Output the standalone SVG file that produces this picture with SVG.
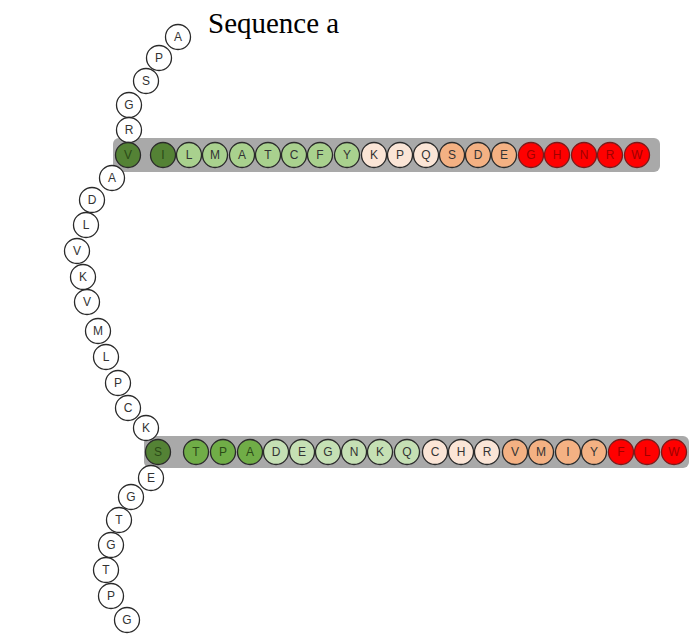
<svg xmlns="http://www.w3.org/2000/svg" width="691" height="641" viewBox="0 0 691 641">
<style>
.bar{fill:#a9a9a9}
circle{stroke:#2a2a2a;stroke-width:1.3}
.w{fill:#fff}
.dg{fill:#548235}
.mg{fill:#70ad47}
.lg{fill:#a9d18e}
.pg{fill:#c5e0b4}
.pp{fill:#fbe5d6}
.pe{fill:#f4b183}
.rd{fill:#ff0000;stroke:#7a1a1a}
text{font-family:"Liberation Sans",Arial,sans-serif;font-size:12px;fill:#333;text-anchor:middle;dominant-baseline:central}
text.d{fill:#2b4a17}
text.r{fill:#a00000}
.title{font-family:"Liberation Serif","Times New Roman",serif;font-size:29px;fill:#000;text-anchor:start;dominant-baseline:alphabetic}
</style>
<rect width="691" height="641" fill="#fff"/>
<text class="title" x="208" y="33">Sequence a</text>
<g id="bars">
<rect class="bar" x="113" y="138" width="547" height="34" rx="6"/>
<rect class="bar" x="144" y="436" width="545" height="32" rx="6"/>
</g>
<g id="connectors"></g>
<g id="top-chain">
<g id="t-A"><circle class="w" cx="178" cy="37" r="12.5"/><text x="178" y="37">A</text></g>
<g id="t-P"><circle class="w" cx="159" cy="58" r="12.5"/><text x="159" y="58">P</text></g>
<g id="t-S"><circle class="w" cx="146" cy="81" r="12.5"/><text x="146" y="81">S</text></g>
<g id="t-G"><circle class="w" cx="129" cy="105" r="12.5"/><text x="129" y="105">G</text></g>
<g id="t-R"><circle class="w" cx="129" cy="130" r="12.5"/><text x="129" y="130">R</text></g>
</g>
<g id="top-row">
<g id="r1-V"><circle class="dg" cx="128" cy="155" r="12.5"/><text class="d" x="128" y="155">V</text></g>
<g id="r1-I"><circle class="dg" cx="163" cy="155" r="12.5"/><text class="d" x="163" y="155">I</text></g>
<g id="r1-L"><circle class="lg" cx="189" cy="155" r="12.5"/><text x="189" y="155">L</text></g>
<g id="r1-M"><circle class="lg" cx="215" cy="155" r="12.5"/><text x="215" y="155">M</text></g>
<g id="r1-A"><circle class="lg" cx="242" cy="155" r="12.5"/><text x="242" y="155">A</text></g>
<g id="r1-T"><circle class="lg" cx="268" cy="155" r="12.5"/><text x="268" y="155">T</text></g>
<g id="r1-C"><circle class="lg" cx="294" cy="155" r="12.5"/><text x="294" y="155">C</text></g>
<g id="r1-F"><circle class="lg" cx="320" cy="155" r="12.5"/><text x="320" y="155">F</text></g>
<g id="r1-Y"><circle class="lg" cx="347" cy="155" r="12.5"/><text x="347" y="155">Y</text></g>
<g id="r1-K"><circle class="pp" cx="374" cy="155" r="12.5"/><text x="374" y="155">K</text></g>
<g id="r1-P"><circle class="pp" cx="400" cy="155" r="12.5"/><text x="400" y="155">P</text></g>
<g id="r1-Q"><circle class="pp" cx="426" cy="155" r="12.5"/><text x="426" y="155">Q</text></g>
<g id="r1-S"><circle class="pe" cx="452" cy="155" r="12.5"/><text x="452" y="155">S</text></g>
<g id="r1-D"><circle class="pe" cx="478" cy="155" r="12.5"/><text x="478" y="155">D</text></g>
<g id="r1-E"><circle class="pe" cx="504" cy="155" r="12.5"/><text x="504" y="155">E</text></g>
<g id="r1-G"><circle class="rd" cx="531" cy="155" r="12.5"/><text class="r" x="531" y="155">G</text></g>
<g id="r1-H"><circle class="rd" cx="557" cy="155" r="12.5"/><text class="r" x="557" y="155">H</text></g>
<g id="r1-N"><circle class="rd" cx="584" cy="155" r="12.5"/><text class="r" x="584" y="155">N</text></g>
<g id="r1-R"><circle class="rd" cx="610" cy="155" r="12.5"/><text class="r" x="610" y="155">R</text></g>
<g id="r1-W"><circle class="rd" cx="637" cy="155" r="12.5"/><text class="r" x="637" y="155">W</text></g>
</g>
<g id="mid-chain">
<g id="m-A"><circle class="w" cx="112" cy="178" r="12.5"/><text x="112" y="178">A</text></g>
<g id="m-D"><circle class="w" cx="92" cy="200" r="12.5"/><text x="92" y="200">D</text></g>
<g id="m-L"><circle class="w" cx="86" cy="225" r="12.5"/><text x="86" y="225">L</text></g>
<g id="m-V1"><circle class="w" cx="77" cy="251" r="12.5"/><text x="77" y="251">V</text></g>
<g id="m-K1"><circle class="w" cx="83" cy="277" r="12.5"/><text x="83" y="277">K</text></g>
<g id="m-V2"><circle class="w" cx="87" cy="302" r="12.5"/><text x="87" y="302">V</text></g>
<g id="m-M"><circle class="w" cx="98" cy="331" r="12.5"/><text x="98" y="331">M</text></g>
<g id="m-L2"><circle class="w" cx="106" cy="357" r="12.5"/><text x="106" y="357">L</text></g>
<g id="m-P"><circle class="w" cx="118" cy="383" r="12.5"/><text x="118" y="383">P</text></g>
<g id="m-C"><circle class="w" cx="128" cy="408" r="12.5"/><text x="128" y="408">C</text></g>
<g id="m-K2"><circle class="w" cx="146" cy="428" r="12.5"/><text x="146" y="428">K</text></g>
</g>
<g id="bottom-row">
<g id="r2-S"><circle class="dg" cx="158" cy="452" r="12.5"/><text class="d" x="158" y="452">S</text></g>
<g id="r2-T"><circle class="mg" cx="196" cy="452" r="12.5"/><text class="d" x="196" y="452">T</text></g>
<g id="r2-P"><circle class="mg" cx="223" cy="452" r="12.5"/><text class="d" x="223" y="452">P</text></g>
<g id="r2-A"><circle class="mg" cx="250" cy="452" r="12.5"/><text class="d" x="250" y="452">A</text></g>
<g id="r2-D"><circle class="pg" cx="276" cy="452" r="12.5"/><text x="276" y="452">D</text></g>
<g id="r2-E"><circle class="pg" cx="302" cy="452" r="12.5"/><text x="302" y="452">E</text></g>
<g id="r2-G"><circle class="pg" cx="328" cy="452" r="12.5"/><text x="328" y="452">G</text></g>
<g id="r2-N"><circle class="pg" cx="354" cy="452" r="12.5"/><text x="354" y="452">N</text></g>
<g id="r2-K"><circle class="pg" cx="380" cy="452" r="12.5"/><text x="380" y="452">K</text></g>
<g id="r2-Q"><circle class="pg" cx="407" cy="452" r="12.5"/><text x="407" y="452">Q</text></g>
<g id="r2-C"><circle class="pp" cx="435" cy="452" r="12.5"/><text x="435" y="452">C</text></g>
<g id="r2-H"><circle class="pp" cx="461" cy="452" r="12.5"/><text x="461" y="452">H</text></g>
<g id="r2-R"><circle class="pp" cx="487" cy="452" r="12.5"/><text x="487" y="452">R</text></g>
<g id="r2-V"><circle class="pe" cx="515" cy="452" r="12.5"/><text x="515" y="452">V</text></g>
<g id="r2-M"><circle class="pe" cx="541" cy="452" r="12.5"/><text x="541" y="452">M</text></g>
<g id="r2-I"><circle class="pe" cx="568" cy="452" r="12.5"/><text x="568" y="452">I</text></g>
<g id="r2-Y"><circle class="pe" cx="594" cy="452" r="12.5"/><text x="594" y="452">Y</text></g>
<g id="r2-F"><circle class="rd" cx="621" cy="452" r="12.5"/><text class="r" x="621" y="452">F</text></g>
<g id="r2-L"><circle class="rd" cx="647" cy="452" r="12.5"/><text class="r" x="647" y="452">L</text></g>
<g id="r2-W"><circle class="rd" cx="674" cy="452" r="12.5"/><text class="r" x="674" y="452">W</text></g>
</g>
<g id="bottom-chain">
<g id="b-E"><circle class="w" cx="151" cy="478" r="12.5"/><text x="151" y="478">E</text></g>
<g id="b-G1"><circle class="w" cx="131" cy="497" r="12.5"/><text x="131" y="497">G</text></g>
<g id="b-T1"><circle class="w" cx="119" cy="520" r="12.5"/><text x="119" y="520">T</text></g>
<g id="b-G2"><circle class="w" cx="111" cy="545" r="12.5"/><text x="111" y="545">G</text></g>
<g id="b-T2"><circle class="w" cx="106" cy="570" r="12.5"/><text x="106" y="570">T</text></g>
<g id="b-P"><circle class="w" cx="111" cy="596" r="12.5"/><text x="111" y="596">P</text></g>
<g id="b-G3"><circle class="w" cx="127" cy="620" r="12.5"/><text x="127" y="620">G</text></g>
</g>
</svg>
